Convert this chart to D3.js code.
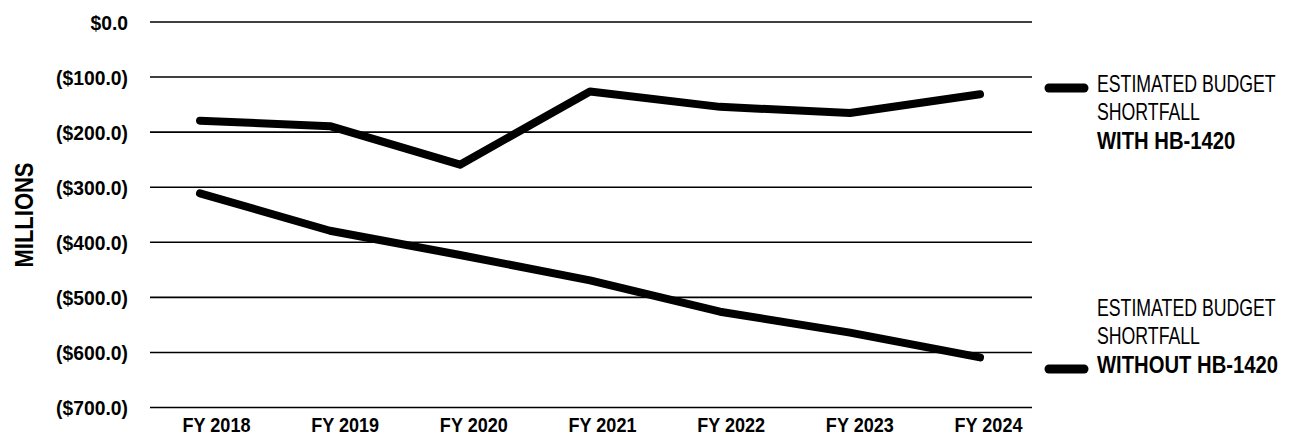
<!DOCTYPE html>
<html>
<head>
<meta charset="utf-8">
<script src="https://cdn.jsdelivr.net/npm/d3@7"></script>
<style>
  body { margin: 0; background: #fff; }
  svg { display: block; }
  text { font-family: "Liberation Sans", Arial, sans-serif; fill: #000; }
</style>
</head>
<body>
<svg id="chart"></svg>
<script>
// chart values
var years = ["FY 2018", "FY 2019", "FY 2020", "FY 2021", "FY 2022", "FY 2023", "FY 2024"];
var withBill = [-180, -190, -260, -127, -155, -166, -132];
var withoutBill = [-312, -380, -424, -470, -527, -565, -610];
var yTicks = [0, -100, -200, -300, -400, -500, -600, -700];
var legendWith = ["ESTIMATED BUDGET", "SHORTFALL", "WITH HB-1420"];
var legendWithout = ["ESTIMATED BUDGET", "SHORTFALL", "WITHOUT HB-1420"];

var svgWidth = 1295, svgHeight = 435;
var gridLeft = 150, gridRight = 1032;

var svg = d3.select("#chart")
  .attr("width", svgWidth)
  .attr("height", svgHeight);

var y = d3.scaleLinear().domain([-700, 0]).range([407, 21.5]);
var x = d3.scalePoint().domain(years).range([200, 980]);
// the year labels sit a little right of the data points in the original
var xLabel = d3.scalePoint().domain(years).range([216, 988]);

function money(v) {
  return v === 0 ? "$0.0" : "($" + Math.abs(v).toFixed(1) + ")";
}

// no condensed font installed, so squeeze text horizontally around its x
function condense(sel, k) {
  sel.each(function() {
    var t = d3.select(this);
    var tx = +t.attr("x") || 0;
    t.attr("x", 0).attr("transform", "translate(" + tx + ",0) scale(" + k + ",1)");
  });
}

// gridlines + y labels
var yAxis = svg.append("g")
  .attr("transform", "translate(" + gridLeft + ",0)")
  .call(d3.axisLeft(y).tickValues(yTicks).tickFormat(money)
    .tickSize(-(gridRight - gridLeft)).tickPadding(22));
yAxis.select(".domain").remove();
yAxis.selectAll(".tick line").attr("stroke", "#000").attr("stroke-width", 1.6);
yAxis.selectAll(".tick text")
  .attr("font-size", 21).attr("font-weight", "bold")
  .attr("dy", "0.36em")
  .style("font-family", "'Liberation Sans', Arial, sans-serif")
  .call(condense, 0.92);

// x labels
var xAxis = svg.append("g")
  .attr("transform", "translate(0,407)")
  .call(d3.axisBottom(xLabel).tickSize(0).tickPadding(0));
xAxis.select(".domain").remove();
xAxis.selectAll(".tick text")
  .attr("y", 25).attr("dy", 0)
  .attr("font-size", 21).attr("font-weight", "bold")
  .style("font-family", "'Liberation Sans', Arial, sans-serif")
  .call(condense, 0.86);

// y title
svg.append("g")
  .attr("transform", "translate(33,215) rotate(-90)")
  .append("text")
  .attr("text-anchor", "middle")
  .attr("font-size", 25).attr("font-weight", "bold")
  .text("MILLIONS")
  .call(condense, 0.88);

// the two series
var line = d3.line()
  .x(function(d, i) { return x(years[i]); })
  .y(function(d) { return y(d); });

[withBill, withoutBill].forEach(function(series) {
  svg.append("path")
    .datum(series)
    .attr("d", line)
    .attr("fill", "none")
    .attr("stroke", "#000")
    .attr("stroke-width", 8)
    .attr("stroke-linecap", "round")
    .attr("stroke-linejoin", "round");
});

// legends
function legend(lines, top, swatchRow) {
  var g = svg.append("g");
  g.append("line")
    .attr("x1", 1049).attr("x2", 1084)
    .attr("y1", top + swatchRow * 28.5 - 4).attr("y2", top + swatchRow * 28.5 - 4)
    .attr("stroke", "#000").attr("stroke-width", 9)
    .attr("stroke-linecap", "round");
  lines.forEach(function(t, i) {
    g.append("text")
      .attr("x", 1097)
      .attr("y", top + i * 28.5)
      .attr("font-size", 23)
      .attr("font-weight", i === 2 ? "bold" : "normal")
      .text(t)
      .call(condense, i === 2 ? 0.88 : 0.77);
  });
}
legend(legendWith, 92, 0);
legend(legendWithout, 316, 2);
</script>
</body>
</html>
